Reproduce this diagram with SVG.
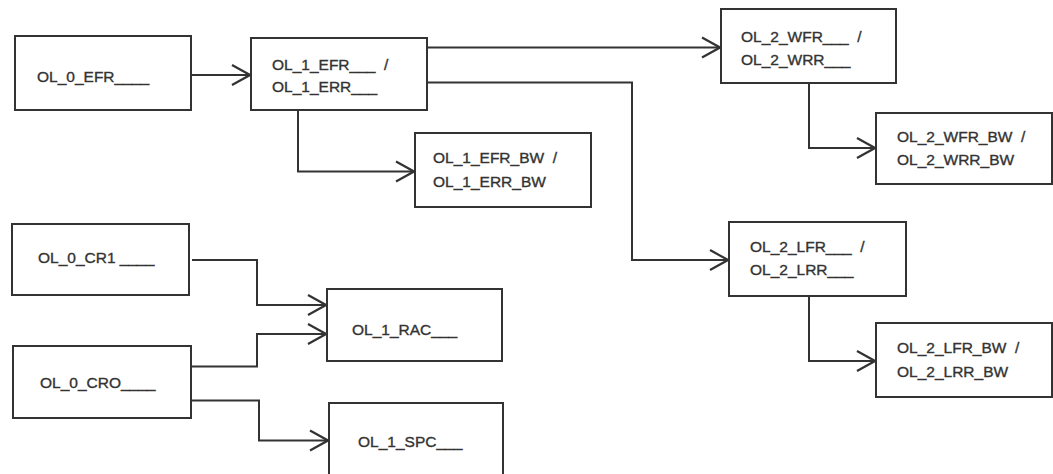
<svg xmlns="http://www.w3.org/2000/svg" width="1053" height="474" viewBox="0 0 1053 474">
<defs>
<style>
.box{fill:#fff;stroke:#333;stroke-width:2}
.lbl{font-family:"Liberation Sans",Arial,sans-serif;font-size:15.5px;fill:#333;stroke:#333;stroke-width:0.35;white-space:pre}
.conn{fill:none;stroke:#333;stroke-width:2}
</style>
<marker id="arr" markerUnits="userSpaceOnUse" markerWidth="22" markerHeight="24" viewBox="-20 -12 22 24" refX="0" refY="0" orient="auto">
<path d="M-18,-10 L0,0 L-18,10" fill="none" stroke="#333" stroke-width="2.2"/>
</marker>
</defs>
<rect width="1053" height="474" fill="#fff"/>
<g id="connectors">
<path class="conn" d="M191,75 H250" marker-end="url(#arr)"/>
<path class="conn" d="M427,47.5 H720" marker-end="url(#arr)"/>
<path class="conn" d="M427,82.5 H632 V260 H728" marker-end="url(#arr)"/>
<path class="conn" d="M298,110 V171.5 H414" marker-end="url(#arr)"/>
<path class="conn" d="M809,83 V148 H875" marker-end="url(#arr)"/>
<path class="conn" d="M809,296 V361 H875" marker-end="url(#arr)"/>
<path class="conn" d="M192,260 H257 V305 H326" marker-end="url(#arr)"/>
<path class="conn" d="M191,366.5 H257 V334 H326" marker-end="url(#arr)"/>
<path class="conn" d="M191,400.5 H259 V440.5 H328" marker-end="url(#arr)"/>
</g>
<g id="OL_0_EFR"><rect class="box" x="15" y="36" width="176" height="74"/><text class="lbl" x="37" y="82">OL_0_EFR____</text></g>
<g id="OL_1_EFR"><rect class="box" x="251" y="38" width="176" height="72"/><text class="lbl" x="272" y="70">OL_1_EFR___  /</text><text class="lbl" x="272" y="92">OL_1_ERR___</text></g>
<g id="OL_1_EFR_BW"><rect class="box" x="415" y="133" width="176" height="74"/><text class="lbl" x="433" y="163">OL_1_EFR_BW  /</text><text class="lbl" x="433" y="187">OL_1_ERR_BW</text></g>
<g id="OL_2_WFR"><rect class="box" x="721" y="9" width="175" height="74"/><text class="lbl" x="741" y="42">OL_2_WFR___  /</text><text class="lbl" x="741" y="65">OL_2_WRR___</text></g>
<g id="OL_2_WFR_BW"><rect class="box" x="876" y="113" width="176" height="71"/><text class="lbl" x="897" y="142">OL_2_WFR_BW  /</text><text class="lbl" x="897" y="165">OL_2_WRR_BW</text></g>
<g id="OL_2_LFR"><rect class="box" x="729" y="222" width="177" height="74"/><text class="lbl" x="750" y="252">OL_2_LFR___  /</text><text class="lbl" x="750" y="275">OL_2_LRR___</text></g>
<g id="OL_2_LFR_BW"><rect class="box" x="876" y="323" width="176" height="74"/><text class="lbl" x="897" y="353">OL_2_LFR_BW  /</text><text class="lbl" x="897" y="377">OL_2_LRR_BW</text></g>
<g id="OL_0_CR1"><rect class="box" x="12" y="224" width="177" height="71"/><text class="lbl" x="38" y="263">OL_0_CR1 ____</text></g>
<g id="OL_1_RAC"><rect class="box" x="327" y="289" width="175" height="72"/><text class="lbl" x="352" y="335">OL_1_RAC___</text></g>
<g id="OL_0_CRO"><rect class="box" x="13" y="346" width="178" height="72"/><text class="lbl" x="40" y="388">OL_0_CRO____</text></g>
<g id="OL_1_SPC"><rect class="box" x="329" y="403" width="174" height="80"/><text class="lbl" x="358" y="447">OL_1_SPC___</text></g>
</svg>
